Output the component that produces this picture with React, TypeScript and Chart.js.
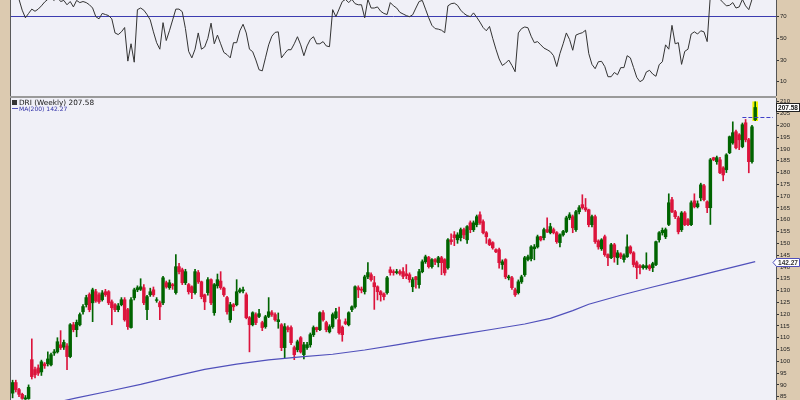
import React, { useEffect, useRef } from "react";
import { Chart, registerables } from "chart.js";

Chart.register(...registerables);

// ---------- data ----------
const symbol = "DRI";
const period = "Weekly";
const maLabel = "MA(200)";

const opens = [
  86.5, 91, 88, 86, 84, 84.2, 100.7, 96.5, 97.2, 95.5,
  98.9, 99, 98.5, 103.5, 104, 107, 106, 106.5, 102, 115.5,
  113.4, 115.5, 121, 124, 128.3, 124.8, 129.5, 128.2, 126.1, 129.5,
  129.5, 125.2, 124, 121.9, 124, 126.1, 121.9, 114.3, 126.9, 130.3,
  130.5, 131.2, 121.9, 128.2, 130.3, 125.8, 124.8, 124.8, 133.3, 131.2,
  132.5, 129.1, 140.1, 138.8, 133.3, 132.5, 131.6, 129.1, 137.6, 133.7,
  128.2, 129.1, 134.6, 120.6, 132, 134, 131, 127, 117.6, 124,
  124, 129.5, 129.9, 128.2, 118.5, 115.5, 119.8, 119, 116.4, 114.7,
  119, 120.6, 119.8, 116.8, 115.5, 105.8, 114.3, 114.3, 105.8, 104.9,
  110, 102.8, 105.8, 107, 111.3, 114.3, 113.4, 120.6, 116.4, 112.5,
  114.7, 118.5, 117.6, 114.5, 116.8, 115.5, 121.9, 123.1, 131.2, 130.6,
  129.5, 135.8, 136.7, 133.3, 131.6, 129.5, 128.6, 129.1, 138.8, 138,
  137.6, 138, 138, 137.1, 136.7, 131.6, 135.8, 132.5, 138, 142.2,
  144, 140.1, 143.1, 141.8, 143.9, 143.1, 139.7, 151.5, 153.6, 151.5,
  152.4, 155.8, 151.5, 158.7, 155.8, 157.9, 162.1, 159.2, 154.5, 151.5,
  150.3, 147.3, 147.3, 141, 143.1, 135.4, 135.4, 130.3, 129.1, 133.7,
  136.7, 143.1, 143.5, 147.7, 148.5, 152.8, 152.4, 155.8, 154.5, 155.8,
  154.5, 150.3, 153.6, 155, 160.8, 161.3, 155.8, 163.4, 166.4, 165.1,
  164.2, 157.9, 161.3, 151, 147.7, 152.8, 145.2, 143.9, 149.4, 143.9,
  145.5, 143.1, 144.3, 148.5, 146, 141.8, 140.5, 139.7, 139.7, 140.5,
  139.7, 141, 151.5, 154.5, 152.8, 158, 168.5, 163.4, 160.8, 155.8,
  162.9, 160, 157.9, 168, 165.5, 169.3, 174.4, 167.6, 165.1, 186.3,
  184.6, 185.4, 182, 181.2, 188.4, 192.6, 197.3, 196, 191, 201.1,
  193.9, 184.6, 202.4,
];

const highs = [
  92, 92, 88.5, 86.5, 85.5, 90, 109.5, 97.5, 98.5, 100.5,
  99.5, 104, 103.5, 105, 110, 113, 109, 107.5, 116, 116.5,
  117.5, 120.5, 124, 128, 129, 131, 130.5, 129, 130, 130.5,
  130, 126, 124.5, 124.5, 127, 127, 122.5, 127, 131, 132,
  135, 132.5, 128, 131, 131.5, 127, 125.5, 136, 134, 134.5,
  133, 145.2, 141.5, 139.5, 139, 133, 132, 139, 138.5, 134,
  128.5, 135.5, 135, 133, 137, 138, 131.5, 127.5, 125, 124.5,
  134.6, 131, 131.5, 129, 119, 121, 120.5, 122, 117, 119.5,
  127, 121.5, 120.5, 120.5, 116, 116, 115, 115, 106.5, 109,
  110.5, 108, 108, 112, 115, 114.5, 121, 121.5, 117, 115.5,
  120.5, 122.5, 123, 115, 118, 121, 123.5, 132, 132, 131.5,
  136.5, 141.8, 137.5, 136, 132, 130, 129, 136, 140, 138.8,
  139, 138.8, 139.7, 141, 137.5, 135.5, 136, 139, 143, 145,
  144.5, 143.5, 143.5, 144.5, 144.5, 143.5, 152, 154, 155, 154.5,
  156.5, 156.5, 157.5, 159.5, 159.5, 162, 163.4, 160, 155, 152,
  150.7, 147.7, 148, 143, 143.5, 136.5, 136, 131, 134.5, 136.5,
  144.5, 145, 149, 149.5, 153.5, 153, 156.5, 160.8, 158.5, 156.5,
  155, 154, 155.5, 161.5, 163, 162, 164, 166, 170.6, 169,
  164.5, 162, 162, 151.5, 152, 153.5, 145.5, 150, 150, 147,
  146, 145.5, 153.6, 149, 146.5, 142.5, 141, 141, 146, 141,
  142, 151, 155, 156.5, 156.5, 171, 169.5, 164, 161.5, 163.5,
  163.5, 160.5, 168, 171, 168, 175.5, 175, 168, 186, 186.5,
  187, 186.5, 182.5, 188, 195.5, 201.5, 198, 196.5, 201, 202.5,
  194.5, 200, 210,
];

const lows = [
  84.5, 87, 85, 83.9, 83.8, 83.9, 92.5, 93, 94, 94,
  97, 98, 98, 102.5, 103.5, 105, 105, 96.5, 101.5, 112.5,
  110.4, 115, 120, 123, 121, 116.8, 125, 124.5, 125.5, 127.5,
  124, 115.5, 121, 121, 123.5, 117, 113.5, 114, 126, 129.5,
  130, 124, 117.6, 127.5, 127.5, 125, 117.6, 124, 131, 130.5,
  130.5, 128.5, 137, 132.5, 132.5, 128.5, 126.5, 128.5, 133, 126.5,
  121.9, 128, 124, 119.5, 131, 130.5, 127.5, 120, 116.5, 121.5,
  123.5, 129, 129, 118, 104, 115, 115.5, 118.5, 113, 114,
  118.5, 119, 117, 114, 104.5, 101.5, 112.5, 107, 100.7, 104,
  103.5, 101, 105, 106, 110.5, 112.5, 113, 117, 112.5, 112,
  114, 118, 111.5, 108.5, 115.5, 115, 121, 122.5, 127, 129,
  128.5, 135, 134, 122, 126, 125.5, 126, 128.5, 136.5, 136.5,
  137, 136.5, 135, 135, 133.5, 129.5, 131, 131, 137.5, 141.5,
  139.5, 139.5, 141, 140, 136.7, 136.5, 139, 149.5, 149, 150,
  151, 152, 150, 154.5, 155, 157, 158, 154, 150, 149,
  147.5, 146, 139.5, 139, 135, 134.5, 130.5, 127.5, 128.5, 133,
  136, 142.5, 142.5, 143, 148, 151, 151.5, 154.5, 154, 154,
  150, 148.5, 153, 154.5, 160, 154.5, 155, 162.5, 164.5, 163.5,
  157, 157, 150, 147.5, 147, 144.5, 140.5, 143.5, 142, 141,
  143.5, 142, 144, 145.5, 140, 135, 137, 139, 139, 138.5,
  138, 140.5, 150.5, 153.5, 152, 157.5, 163, 160.5, 154, 155,
  157.5, 157.5, 157.5, 165, 165, 168, 168, 163, 158, 185,
  183.5, 179.5, 176.5, 180, 188, 192, 190, 189.7, 190.5, 193,
  179.9, 184, 202,
];

const closes = [
  91, 88, 86, 84.3, 84.5, 89, 93.5, 94.3, 95, 99.8,
  98.1, 101, 102.8, 104, 108.3, 105.8, 108, 102, 115.5, 113.4,
  116.5, 119.8, 123.2, 127, 121.9, 130.3, 125.6, 125.2, 129, 128.2,
  124.8, 122.7, 121.9, 123.5, 126.1, 117.6, 114.7, 126.1, 130.3, 131.2,
  131.6, 124.8, 127.4, 129.5, 128.2, 126.1, 123.1, 135.4, 131.6, 133.3,
  132, 140.1, 138, 133.3, 138, 129.5, 129.1, 138, 133.7, 127.4,
  125.2, 134.6, 124.8, 132.5, 134.6, 131.2, 128.2, 121, 124, 123.1,
  129.5, 130.3, 130.3, 118.5, 115.5, 120.6, 116.4, 120.2, 114.3, 118.9,
  121, 119.8, 117.6, 117.6, 105.8, 114.7, 113.4, 107.9, 102.8, 108.3,
  104, 107, 107, 111.3, 114.3, 113.4, 120.6, 117.6, 113.4, 114.7,
  119.8, 121, 112.1, 111.3, 116, 120.6, 123.1, 131.6, 130.3, 130.1,
  135.8, 137.6, 134.6, 131.6, 129.5, 128.2, 127.4, 135.4, 137.6, 137.6,
  138, 137.2, 136, 136.3, 134.6, 134.6, 134.6, 138, 142.2, 144.3,
  140.1, 143.1, 142.2, 143.9, 141.8, 137.5, 151.5, 150.7, 152.4, 153.6,
  155.8, 153.6, 157.1, 155.8, 158.7, 161.3, 158.7, 154.5, 152.8, 149.4,
  148.1, 146.4, 141.8, 142.2, 135.8, 135.8, 131.2, 128.2, 133.7, 135.8,
  143.9, 144.3, 148.5, 148.5, 152.8, 151.5, 155.8, 154.9, 157.1, 154.5,
  150.7, 153.6, 155, 160.8, 162.1, 156.6, 163.4, 165.1, 165.1, 164.2,
  157.9, 161.3, 150.7, 148.5, 151.5, 145.2, 143.9, 149.4, 144.3, 146,
  144.3, 144.8, 148.5, 146, 141, 139.7, 139.7, 140.5, 140.5, 139.3,
  141.4, 150.7, 154.5, 155.5, 155.8, 167.2, 163.4, 161.3, 154.9, 162.9,
  157.9, 157.9, 167.2, 165.5, 166.8, 174.8, 168.5, 165.1, 185.4, 185.4,
  186.3, 179.9, 179, 187.5, 195.2, 196.9, 190.5, 193.9, 200.3, 193.9,
  184.6, 199.4, 207.58,
];

const rsi14 = [
  92, 90, 86, 76, 69, 73, 77, 75, 77, 80,
  83.5, 86, 87, 85, 88, 84, 85, 81, 84, 79,
  85, 83, 84, 83, 81, 78, 70, 68, 73, 72,
  71, 68, 55, 53.5, 56, 60, 29, 45, 28, 76.5,
  78, 76, 72, 67, 56, 46, 40, 64.5, 48, 57,
  67, 77, 77, 74.6, 59, 38, 32, 40, 55, 40,
  42, 50, 64, 45, 53, 45, 37, 35, 32, 46,
  46, 57, 63, 55, 40, 37.7, 30, 21, 20, 32,
  44, 52, 55.5, 56, 32, 36, 39.5, 39.5, 45, 51.5,
  44, 34, 43, 49, 51.5, 45, 45, 47, 43, 42.3,
  76.5, 70, 77, 84, 86, 83, 86, 82, 81, 81,
  69, 86, 78, 78, 79, 75, 73, 72, 83, 80,
  78, 74, 72.5, 71, 70, 71.8, 78, 84, 85, 77,
  69, 62, 59, 58.5, 57.5, 55.2, 80, 82, 82.5, 80.5,
  76, 73, 71, 70, 73.5, 69.5, 65, 60, 57, 61,
  50, 40, 31, 25, 27, 30, 25, 19.2, 55, 59,
  60.5, 59.8, 52, 46, 47, 44, 41, 39.5, 37.7, 34,
  24, 36, 45, 55, 49, 39, 53, 54.3, 55.2, 57.5,
  36, 26, 22, 28.4, 28.8, 24, 14.6, 14.6, 18.5, 16.4,
  23, 23, 34, 32, 23, 14, 10, 11.8, 19, 20.5,
  17, 15, 25.7, 28.4, 44, 40, 62, 45, 46, 26,
  38, 40, 54, 56, 54, 57, 56, 47, 90, 88,
  90, 86, 83, 80, 80.5, 83, 78, 79, 86, 80,
  76.5, 86, 88,
];

// 200-week moving average, read at these week positions
const maIdx = [0, 10, 20, 30, 40, 50, 60, 70, 80, 90, 100, 110, 120, 130, 140, 150, 160, 168, 175, 180, 190, 200, 210, 220, 232];
const maVal = [78.5, 81.5, 84.5, 87.3, 90.2, 93.5, 96.6, 98.8, 100.6, 101.9, 103.0, 104.8, 107.0, 109.3, 111.4, 113.6, 115.8, 118.2, 121.5, 124.2, 128.0, 131.5, 134.8, 138.2, 142.27];

const priceTicks = [210, 205, 200, 195, 190, 185, 180, 175, 170, 165, 160, 155, 150, 145, 140, 135, 130, 125, 120, 115, 110, 105, 100, 95, 90, 85];
const rsiTicks = [70, 50, 30, 10];
const rsiLevel = 70;
const refLevel = 203.5;
const futureWeeks = 6;

// ---------- styling ----------
const UP = "#006400";
const DOWN = "#dc143c";
const PANEL_BG = "#f0f0f7";
const TAN = "#dccab0";
const MA_COLOR = "#5050bb";
const TICK_FONT = { family: "'Liberation Sans', Arial, sans-serif", size: 6 };

const N = closes.length;
const labels = Array.from({ length: N + futureWeeks }, (_, i) => `W${i + 1}`);
const candleColors = closes.map((c, i) => (c >= opens[i] ? UP : DOWN));
const bodies = closes.map((c, i) => [opens[i], c]);
const wicks = lows.map((l, i) => [l, highs[i]]);
const highlight = closes.map((_, i) => (i === N - 1 ? [lows[i], highs[i]] : null));
const maSeries: (number | null)[] = closes.map(() => null);
maIdx.forEach((idx, k) => {
  maSeries[idx] = maVal[k];
});
const lastClose = closes[N - 1];
const lastMA = maVal[maVal.length - 1];

const panelBg = {
  id: "panelBg",
  beforeDraw(chart: any) {
    const { ctx, chartArea: a } = chart;
    ctx.save();
    ctx.fillStyle = PANEL_BG;
    ctx.fillRect(a.left, a.top, a.right - a.left, a.bottom - a.top);
    ctx.fillStyle = "#5a5a5a";
    ctx.fillRect(a.left - 1, 0, 1, chart.height);
    ctx.restore();
  },
};

const priceOverlay = {
  id: "priceOverlay",
  afterDraw(chart: any) {
    const { ctx, chartArea: a, scales } = chart;
    const ys = scales.y;
    const xs = scales.x;
    ctx.save();
    // dashed level line
    const ry = Math.round(ys.getPixelForValue(refLevel)) + 0.5;
    ctx.strokeStyle = "#4040c8";
    ctx.lineWidth = 1;
    ctx.setLineDash([4, 2]);
    ctx.beginPath();
    ctx.moveTo(xs.getPixelForValue(N - 5), ry);
    ctx.lineTo(a.right - 3, ry);
    ctx.stroke();
    ctx.setLineDash([]);

    ctx.font = "bold 6.5px 'Liberation Sans', Arial, sans-serif";
    ctx.textAlign = "center";
    ctx.textBaseline = "middle";
    // last price box
    const py = Math.round(ys.getPixelForValue(lastClose)) + 0.5;
    ctx.fillStyle = "#ffffff";
    ctx.fillRect(a.right + 0.5, py - 4, 23, 8);
    ctx.strokeStyle = "#222";
    ctx.strokeRect(a.right + 0.5, py - 4, 23, 8);
    ctx.fillStyle = "#111";
    ctx.fillText(lastClose.toFixed(2), a.right + 12, py + 0.5);
    // MA box with arrow
    const my = Math.round(ys.getPixelForValue(lastMA)) + 0.5;
    ctx.beginPath();
    ctx.moveTo(a.right - 3, my);
    ctx.lineTo(a.right + 0.5, my - 4);
    ctx.lineTo(a.right + 23.5, my - 4);
    ctx.lineTo(a.right + 23.5, my + 4);
    ctx.lineTo(a.right + 0.5, my + 4);
    ctx.closePath();
    ctx.fillStyle = "#ffffff";
    ctx.fill();
    ctx.strokeStyle = MA_COLOR;
    ctx.stroke();
    ctx.fillStyle = "#333";
    ctx.fillText(lastMA.toFixed(2), a.right + 12, my + 0.5);
    ctx.restore();
  },
};

function rightAxis(min: number, max: number, ticks: number[], gridColor: any) {
  return {
    position: "right" as const,
    min,
    max,
    afterBuildTicks: (s: any) => {
      s.ticks = ticks.map((v) => ({ value: v }));
    },
    afterFit: (s: any) => {
      s.width = 24;
      s.paddingTop = 0;
      s.paddingBottom = 0;
    },
    grid: {
      color: gridColor,
      drawOnChartArea: true,
      drawTicks: true,
      tickLength: 3,
      tickColor: "#333",
    },
    border: { display: true, color: "#555", width: 1 },
    ticks: {
      padding: 1,
      autoSkip: false,
      color: "#222",
      font: TICK_FONT,
      callback: (v: any) => String(v),
    },
  };
}

export default function App() {
  const rsiRef = useRef<HTMLCanvasElement>(null);
  const priceRef = useRef<HTMLCanvasElement>(null);

  useEffect(() => {
    const rsiChart = new Chart(rsiRef.current as HTMLCanvasElement, {
      type: "line",
      data: {
        labels,
        datasets: [
          {
            data: rsi14,
            borderColor: "#333333",
            borderWidth: 1,
            pointRadius: 0,
            tension: 0,
          },
        ],
      },
      options: {
        responsive: false,
        animation: false,
        devicePixelRatio: 1,
        events: [],
        layout: { padding: { left: 11, right: 0, top: 0, bottom: 0 } },
        plugins: { legend: { display: false }, tooltip: { enabled: false } },
        scales: {
          x: { type: "category", display: false, offset: true },
          y: rightAxis(-3.2, 85.4, rsiTicks, (ctx: any) =>
            ctx.tick && ctx.tick.value === rsiLevel ? "#3c3cb0" : "rgba(0,0,0,0)"
          ) as any,
        },
      },
      plugins: [panelBg],
    });

    const priceChart = new Chart(priceRef.current as HTMLCanvasElement, {
      type: "bar",
      data: {
        labels,
        datasets: [
          {
            type: "line",
            data: maSeries,
            borderColor: MA_COLOR,
            borderWidth: 1.2,
            pointRadius: 0,
            spanGaps: true,
            order: 0,
          } as any,
          {
            type: "bar",
            data: bodies,
            backgroundColor: candleColors,
            barThickness: 2.8,
            grouped: false,
            borderWidth: 0,
            order: 1,
          } as any,
          {
            type: "bar",
            data: wicks,
            backgroundColor: candleColors,
            barThickness: 1,
            grouped: false,
            borderWidth: 0,
            order: 2,
          } as any,
          {
            type: "bar",
            data: highlight,
            backgroundColor: "#f2f200",
            barThickness: 5,
            grouped: false,
            borderWidth: 0,
            order: 3,
          } as any,
        ],
      },
      options: {
        responsive: false,
        animation: false,
        devicePixelRatio: 1,
        events: [],
        layout: { padding: { left: 11, right: 0, top: 0, bottom: 0 } },
        plugins: { legend: { display: false }, tooltip: { enabled: false } },
        scales: {
          x: { type: "category", display: false, offset: true },
          y: rightAxis(83.6, 211.6, priceTicks, "rgba(0,0,0,0)") as any,
        },
      },
      plugins: [panelBg, priceOverlay],
    });

    return () => {
      rsiChart.destroy();
      priceChart.destroy();
    };
  }, []);

  return (
    <div
      style={{
        position: "fixed",
        left: 0,
        top: 0,
        width: 800,
        height: 400,
        background: TAN,
        overflow: "hidden",
      }}
    >
      <canvas
        ref={rsiRef}
        width={800}
        height={96}
        style={{ position: "absolute", left: 0, top: 0, display: "block" }}
      />
      <div style={{ position: "absolute", left: 10, top: 96, width: 766, height: 2, background: "#9a9a9a" }} />
      <canvas
        ref={priceRef}
        width={800}
        height={302}
        style={{ position: "absolute", left: 0, top: 98, display: "block" }}
      />
      <div
        style={{
          position: "absolute",
          left: 12,
          top: 99,
          display: "flex",
          alignItems: "center",
          fontFamily: "'DejaVu Sans', Verdana, sans-serif",
          fontSize: 7.3,
          lineHeight: "7px",
          color: "#111",
          whiteSpace: "nowrap",
        }}
      >
        <span style={{ display: "inline-block", width: 5, height: 5, background: "#333", marginRight: 2 }} />
        <span>{`${symbol} (${period}) ${lastClose.toFixed(2)}`}</span>
      </div>
      <div
        style={{
          position: "absolute",
          left: 12,
          top: 105,
          display: "flex",
          alignItems: "center",
          fontFamily: "'DejaVu Sans', Verdana, sans-serif",
          fontSize: 6,
          lineHeight: "7px",
          color: "#3030a8",
          whiteSpace: "nowrap",
        }}
      >
        <span style={{ display: "inline-block", width: 6, height: 1.5, background: MA_COLOR, marginRight: 1 }} />
        <span>{`${maLabel} ${lastMA.toFixed(2)}`}</span>
      </div>
    </div>
  );
}
